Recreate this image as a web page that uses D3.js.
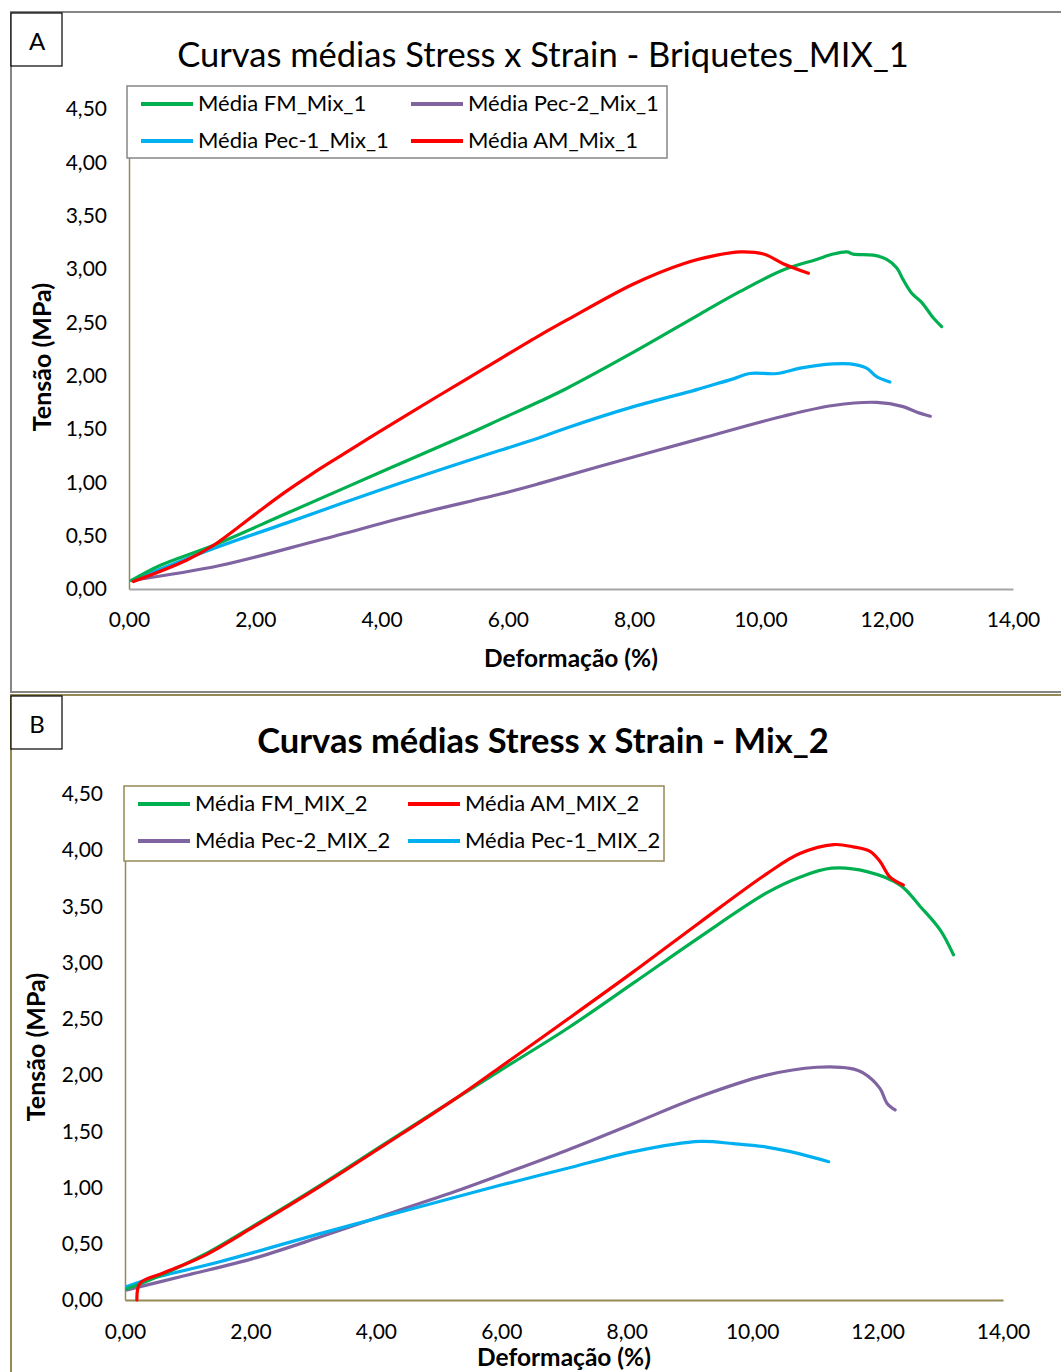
<!DOCTYPE html>
<html>
<head>
<meta charset="utf-8">
<script src="https://cdn.jsdelivr.net/npm/d3@7"></script>
<style>
  body { margin: 0; background: #fff; }
  text { font-family: Lato, "Open Sans", sans-serif; fill: #000; }
</style>
</head>
<body>
<div id="display"></div>
<script>
// ---- data ----
const xTicks = [0, 2, 4, 6, 8, 10, 12, 14];
const yTicks = [0, 0.5, 1, 1.5, 2, 2.5, 3, 3.5, 4, 4.5];

// panel A: Briquetes_MIX_1  [deformação %, tensão MPa]
const fmMix1 = [[0.04,0.08],[0.49,0.22],[1.34,0.41],[2.5,0.71],[4.08,1.12],[5.4,1.46],[5.88,1.59],[6.51,1.76],
  [6.93,1.88],[7.99,2.22],[9.05,2.58],[9.68,2.79],[10.36,2.99],[10.89,3.09],[11.15,3.14],[11.37,3.16],[11.47,3.14],
  [11.79,3.13],[12.0,3.09],[12.16,3.01],[12.26,2.9],[12.4,2.77],[12.55,2.69],[12.74,2.54],[12.87,2.46]];
const pec1Mix1 = [[0.04,0.08],[1.34,0.38],[2.5,0.62],[4.08,0.95],[5.4,1.21],[5.88,1.3],[6.51,1.42],[6.93,1.51],
  [7.99,1.71],[8.94,1.86],[9.05,1.88],[9.57,1.97],[9.83,2.02],[10.26,2.02],[10.63,2.07],[11.15,2.11],[11.42,2.11],
  [11.68,2.07],[11.84,1.99],[12.05,1.94]];
const pec2Mix1 = [[0.04,0.08],[1.44,0.22],[3.02,0.46],[4.61,0.71],[5.88,0.89],[6.51,0.99],[7.46,1.15],[9.05,1.41],
  [10.36,1.62],[11.15,1.72],[11.84,1.75],[12.26,1.71],[12.47,1.66],[12.69,1.62]];
const amMix1 = [[0.07,0.07],[0.91,0.27],[1.34,0.41],[1.71,0.57],[2.13,0.76],[2.5,0.92],[2.9,1.08],[3.3,1.23],
  [3.87,1.44],[4.87,1.8],[5.66,2.08],[6.51,2.38],[6.93,2.52],[7.99,2.86],[8.78,3.05],[9.31,3.13],[9.68,3.16],
  [10.05,3.14],[10.36,3.05],[10.76,2.96]];

// panel B: Mix_2
const fmMix2 = [[0.03,0.1],[0.45,0.19],[1.25,0.4],[2.05,0.66],[3.11,1.02],[4.17,1.4],[5.24,1.78],[5.98,2.04],
  [7.04,2.41],[8.11,2.82],[9.17,3.23],[10.23,3.62],[10.76,3.76],[11.27,3.84],[11.83,3.81],[12.36,3.69],
  [12.68,3.5],[13.0,3.29],[13.21,3.07]];
const amMix2 = [[0.19,0.0],[0.24,0.15],[0.61,0.24],[1.25,0.39],[2.05,0.65],[3.11,1.01],[4.17,1.39],[5.24,1.78],
  [5.98,2.07],[7.04,2.49],[8.11,2.92],[9.17,3.36],[10.23,3.79],[10.76,3.97],[11.3,4.05],[11.61,4.03],
  [11.88,3.99],[12.04,3.9],[12.2,3.76],[12.41,3.69]];
const pec2Mix2 = [[0.03,0.09],[0.98,0.22],[2.05,0.37],[3.11,0.56],[4.17,0.76],[5.24,0.96],[5.98,1.11],[7.04,1.33],
  [8.11,1.57],[9.17,1.81],[10.23,2.0],[11.03,2.07],[11.56,2.06],[11.77,2.02],[12.04,1.88],[12.15,1.75],[12.28,1.69]];
const pec1Mix2 = [[0.03,0.12],[0.35,0.18],[1.51,0.34],[3.11,0.59],[4.7,0.83],[5.98,1.02],[7.04,1.17],[8.11,1.32],
  [9.17,1.41],[9.7,1.39],[10.23,1.36],[10.76,1.3],[11.22,1.23]];

const GREEN = "#00b050", PURPLE = "#8064a2", CYAN = "#00b0f0", RED = "#ff0000";
const OLIVE = "#948a54", GREY = "#868686";

const fmt = d => d.toFixed(2).replace(".", ",");

let svg = d3.select("#display").append("svg").attr("width", 1061).attr("height", 1372);

function drawPanel(cfg) {
  let g = svg.append("g");

  // frame + letter box
  g.append("rect").attr("x", cfg.frame[0]).attr("y", cfg.frame[1]).attr("width", cfg.frame[2]).attr("height", cfg.frame[3])
    .attr("fill", "none").attr("stroke", cfg.frameColor).attr("stroke-width", 2);
  g.append("rect").attr("x", cfg.frame[0]).attr("y", cfg.frame[1] + 1).attr("width", 51).attr("height", 53)
    .attr("fill", "#fff").attr("stroke", "#000").attr("stroke-width", 1.2);
  g.append("text").attr("x", cfg.frame[0] + 26).attr("y", cfg.frame[1] + 38).attr("text-anchor", "middle")
    .attr("font-size", 24).text(cfg.letter);

  // title
  g.append("text").attr("x", cfg.titleX).attr("y", cfg.titleY).attr("text-anchor", "middle")
    .attr("font-size", 34.5).attr("font-weight", cfg.titleBold ? "bold" : "normal").text(cfg.title);

  let x = d3.scaleLinear().domain([0, 14]).range(cfg.xRange);
  let y = d3.scaleLinear().domain([0, 4.5]).range(cfg.yRange);

  let xAxis = g.append("g").attr("transform", `translate(0,${cfg.yRange[0]})`)
    .call(d3.axisBottom(x).tickValues(xTicks).tickFormat(fmt).tickSize(0).tickPadding(cfg.xPad));
  xAxis.select(".domain").attr("stroke", cfg.xAxisColor).attr("stroke-width", 2);
  xAxis.selectAll("text").attr("font-size", 21).style("font-family", "Lato, 'Open Sans', sans-serif").attr("fill", "#000");

  let yAxis = g.append("g").attr("transform", `translate(${cfg.xRange[0]},0)`)
    .call(d3.axisLeft(y).tickValues(yTicks).tickFormat(fmt).tickSize(0).tickPadding(22));
  yAxis.select(".domain").attr("stroke", OLIVE).attr("stroke-width", 1.5);
  yAxis.selectAll("text").attr("font-size", 21).style("font-family", "Lato, 'Open Sans', sans-serif").attr("fill", "#000");

  // axis titles
  g.append("text").attr("x", cfg.xTitle[0]).attr("y", cfg.xTitle[1]).attr("text-anchor", "middle")
    .attr("font-size", 24.5).attr("font-weight", "bold").text("Deformação (%)");
  g.append("text").attr("transform", `translate(${cfg.yTitle[0]},${cfg.yTitle[1]}) rotate(-90)`)
    .attr("text-anchor", "middle").attr("font-size", 25).attr("font-weight", "bold").text("Tensão (MPa)");

  // curves
  let line = d3.line().x(d => x(d[0])).y(d => y(d[1])).curve(d3.curveCatmullRom.alpha(0.5));
  cfg.series.forEach(s => {
    g.append("path").datum(s.data).attr("d", line)
      .attr("fill", "none").attr("stroke", s.color).attr("stroke-width", 3.2)
      .attr("stroke-linejoin", "round").attr("stroke-linecap", "round");
  });

  // legend
  let lg = g.append("g");
  lg.append("rect").attr("x", cfg.legend[0]).attr("y", cfg.legend[1]).attr("width", cfg.legend[2]).attr("height", cfg.legend[3])
    .attr("fill", "#fff").attr("stroke", cfg.legendColor).attr("stroke-width", 1.5);
  cfg.legendOrder.forEach((s, i) => {
    let col = i % 2, row = Math.floor(i / 2);
    let lx = cfg.legend[0] + 14 + col * 270;
    let ly = cfg.legend[1] + 18 + row * 37;
    lg.append("line").attr("x1", lx).attr("x2", lx + 52).attr("y1", ly).attr("y2", ly)
      .attr("stroke", s.color).attr("stroke-width", 4);
    lg.append("text").attr("x", lx + 57).attr("y", ly + 7).attr("font-size", 22).text(s.name);
  });
}

let seriesA = {
  fm: { name: "Média FM_Mix_1", color: GREEN, data: fmMix1 },
  p2: { name: "Média Pec-2_Mix_1", color: PURPLE, data: pec2Mix1 },
  p1: { name: "Média Pec-1_Mix_1", color: CYAN, data: pec1Mix1 },
  am: { name: "Média AM_Mix_1", color: RED, data: amMix1 }
};
let seriesB = {
  fm: { name: "Média FM_MIX_2", color: GREEN, data: fmMix2 },
  am: { name: "Média AM_MIX_2", color: RED, data: amMix2 },
  p2: { name: "Média Pec-2_MIX_2", color: PURPLE, data: pec2Mix2 },
  p1: { name: "Média Pec-1_MIX_2", color: CYAN, data: pec1Mix2 }
};

drawPanel({
  letter: "A", frame: [11, 12, 1060, 680], frameColor: GREY,
  title: "Curvas médias Stress x Strain - Briquetes_MIX_1", titleBold: false, titleX: 543, titleY: 67,
  xRange: [129, 1013], yRange: [589, 109], xAxisColor: "#a6a6a6", xPad: 23,
  xTitle: [571, 667], yTitle: [51, 357],
  series: [seriesA.p2, seriesA.p1, seriesA.fm, seriesA.am],
  legend: [127, 86, 540, 72], legendColor: GREY,
  legendOrder: [seriesA.fm, seriesA.p2, seriesA.p1, seriesA.am]
});

drawPanel({
  letter: "B", frame: [11, 695, 1060, 700], frameColor: OLIVE,
  title: "Curvas médias Stress x Strain - Mix_2", titleBold: true, titleX: 543, titleY: 753,
  xRange: [125, 1003], yRange: [1300, 794], xAxisColor: OLIVE, xPad: 24,
  xTitle: [564, 1366], yTitle: [45, 1047],
  series: [seriesB.p2, seriesB.p1, seriesB.fm, seriesB.am],
  legend: [124, 786, 540, 75], legendColor: OLIVE,
  legendOrder: [seriesB.fm, seriesB.am, seriesB.p2, seriesB.p1]
});
</script>
</body>
</html>
